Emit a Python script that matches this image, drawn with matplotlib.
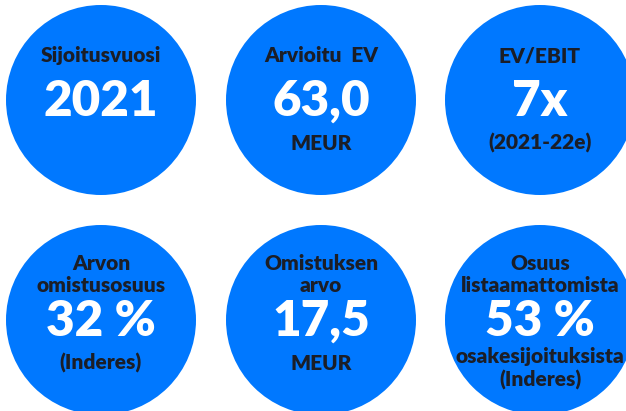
import matplotlib.pyplot as plt
from matplotlib.patches import Circle

# ============================================================
# DATA
# ============================================================

titles = [
    ["Sijoitusvuosi"],
    ["Arvioitu  EV"],
    ["EV/EBIT"],
    ["Arvon", "omistusosuus"],
    ["Omistuksen", "arvo"],
    ["Osuus", "listaamattomista"],
]

values = ["2021", "63,0", "7x", "32 %", "17,5", "53 %"]

notes = [
    [],
    ["MEUR"],
    ["(2021-22e)"],
    ["(Inderes)"],
    ["MEUR"],
    ["osakesijoituksista", "(Inderes)"],
]

# ============================================================
# STYLE / LAYOUT
# ============================================================

BLUE = "#0078FF"
DARK = "#1B1E27"
FONT = ["Lato", "DejaVu Sans"]

COL_X = [101, 321, 540]
ROW_Y = [100, 320]
RADIUS = 95

W, H = 626, 411

fig = plt.figure(figsize=(W / 100, H / 100), dpi=100)
ax = fig.add_axes([0, 0, 1, 1])
ax.set_xlim(0, W)
ax.set_ylim(H, 0)
ax.set_aspect("equal")
ax.axis("off")

for i in range(len(values)):

    cx = COL_X[i % 3]
    cy = ROW_Y[i // 3]

    ax.add_patch(Circle((cx, cy), RADIUS, color=BLUE, lw=0))

    # --------------------------------------------------------
    # title lines (dark, above the value)
    # --------------------------------------------------------

    n = len(titles[i])
    last = cy - 38 if n == 1 else cy - 28
    for k, line in enumerate(titles[i]):
        base = last - 22 * (n - 1 - k)
        ax.text(cx, base, line, ha="center", va="baseline",
                fontsize=15, fontweight="heavy", color=DARK,
                family=FONT)

    # --------------------------------------------------------
    # big value (white)
    # --------------------------------------------------------

    ax.text(cx, cy + 16, values[i], ha="center", va="baseline",
            fontsize=35.5, fontweight="heavy", color="white",
            family=FONT)

    # --------------------------------------------------------
    # notes below the value
    # --------------------------------------------------------

    for k, line in enumerate(notes[i]):
        if len(notes[i]) > 1:
            base = cy + 43 + 24 * k
        else:
            base = cy + 50
        ax.text(cx, base, line, ha="center", va="baseline",
                fontsize=15, fontweight="heavy", color=DARK,
                family=FONT)

fig.savefig("out.png", dpi=100)
